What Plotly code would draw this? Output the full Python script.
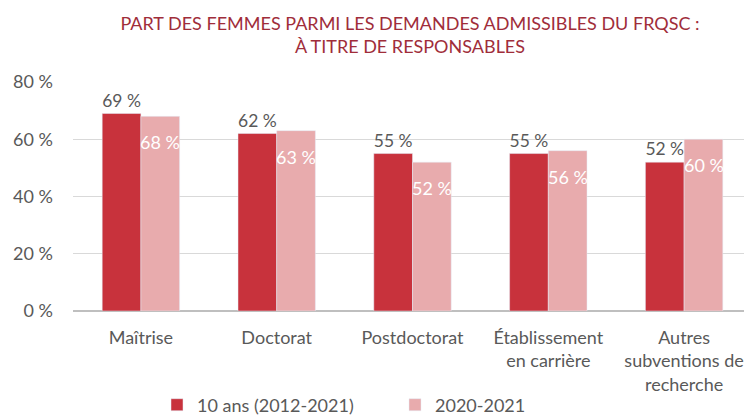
import plotly.graph_objects as go

categories = ["Maîtrise", "Doctorat", "Postdoctorat", "Établissement<br>en carrière", "Autres<br>subventions de<br>recherche"]
series_10ans = [69, 62, 55, 55, 52]
series_2020 = [68, 63, 52, 56, 60]
name_10ans = "10 ans (2012-2021)"
name_2020 = "2020-2021"
tick_vals = [0, 20, 40, 60, 80]
tick_text = ["0 %", "20 %", "40 %", "60 %", "80 %"]

FONT = "Lato, Open Sans, sans-serif"
GRAY = "#595959"
FS = 18

fig = go.Figure()
fig.add_trace(go.Bar(
    x=categories, y=series_10ans, name=name_10ans,
    marker=dict(color="#c8323c"),
    text=[f"{v} %" for v in series_10ans], textposition="outside",
    textfont=dict(color=GRAY, size=FS, family=FONT), cliponaxis=False,
))
fig.add_trace(go.Bar(
    x=categories, y=series_2020, name=name_2020,
    marker=dict(color="#e8abad"),
))
# labels of the second series, inside the top of the bars
for c, v in zip(categories, series_2020):
    fig.add_annotation(x=c, y=v, text=f"{v} %", showarrow=False,
                       xshift=19.5, yshift=-13, yanchor="top",
                       font=dict(color="white", size=FS, family=FONT))

fig.update_layout(
    width=744, height=409,
    margin=dict(l=65, r=0, t=74, b=106, autoexpand=False),
    paper_bgcolor="white", plot_bgcolor="white",
    barmode="group", bargap=0.43, bargroupgap=0,
    font=dict(family=FONT, size=FS, color=GRAY),
    title=dict(
        text="PART DES FEMMES PARMI LES DEMANDES ADMISSIBLES DU FRQSC :<br>À TITRE DE RESPONSABLES",
        x=402/744, xanchor="center", xref="container",
        y=1 - 22/409, yanchor="middle", yref="container",
        font=dict(family=FONT, size=18, color="#a02d3a"),
    ),
    legend=dict(orientation="h", x=(149-65)/679, xanchor="left",
                y=(303-397)/229, yanchor="middle",
                entrywidth=193, entrywidthmode="pixels",
                font=dict(size=FS, color=GRAY), traceorder="normal", itemwidth=30),
)
fig.update_yaxes(range=[0, 80], tickvals=tick_vals, ticktext=tick_text,
                 showgrid=True, gridcolor="#d9d9d9", gridwidth=1, automargin=False,
                 zeroline=True, zerolinecolor="#bfbfbf", ticks="", ticklabelstandoff=19,
                 tickfont=dict(size=FS, color=GRAY))
fig.update_xaxes(showline=False, ticks="", automargin=False, ticklabelstandoff=14,
                 tickfont=dict(size=FS, color=GRAY))
fig.write_html("out.html")
